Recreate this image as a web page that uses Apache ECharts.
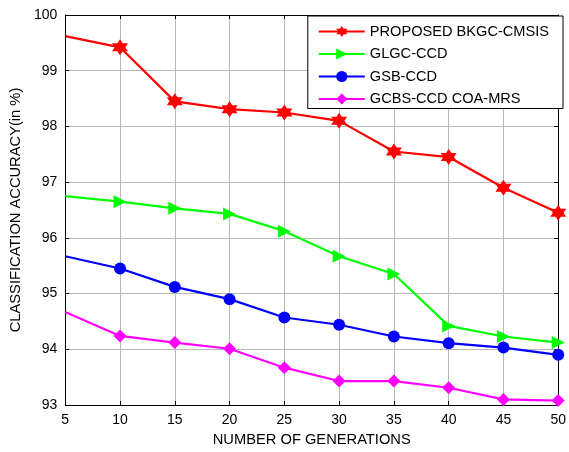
<!DOCTYPE html>
<html>
<head>
<meta charset="utf-8">
<script src="https://cdn.jsdelivr.net/npm/echarts@6/dist/echarts.min.js"></script>
<style>
  html, body { margin: 0; padding: 0; background: #fff; }
  #chart { width: 569px; height: 452px; }
</style>
</head>
<body>
<div id="chart"></div>
<script>
// generations on the x axis
var generations = [5, 10, 15, 20, 25, 30, 35, 40, 45, 50];

// accuracy values (%)
var proposed = [99.62, 99.42, 98.45, 98.31, 98.25, 98.10, 97.55, 97.45, 96.90, 96.45];
var glgc     = [96.75, 96.65, 96.53, 96.43, 96.12, 95.67, 95.35, 94.42, 94.23, 94.12];
var gsb      = [95.67, 95.45, 95.12, 94.90, 94.57, 94.44, 94.23, 94.11, 94.03, 93.90];
var gcbs     = [94.67, 94.24, 94.12, 94.01, 93.67, 93.43, 93.43, 93.31, 93.10, 93.08];

var names = ['PROPOSED BKGC-CMSIS', 'GLGC-CCD', 'GSB-CCD', 'GCBS-CCD COA-MRS'];

var hexagram = 'path://M10,0 L12.885,5 L18.66,5 L15.77,10 L18.66,15 L12.885,15 L10,20 L7.115,15 L1.34,15 L4.23,10 L1.34,5 L7.115,5 Z';
var triRight = 'path://M0,0 L10,5 L0,10 Z';

// first point is drawn without a marker, like the original figure
function pts(vals) {
  return vals.map(function (v, i) {
    var p = { value: [generations[i], v] };
    if (i === 0) p.symbol = 'none';
    return p;
  });
}

function mk(name, vals, color, symbol, size) {
  return {
    name: name,
    type: 'line',
    data: pts(vals),
    symbol: symbol,
    symbolSize: size,
    showAllSymbol: true,
    lineStyle: { color: color, width: 2.2 },
    itemStyle: { color: color, borderWidth: 0 },
    animation: false
  };
}

var chart = echarts.init(document.getElementById('chart'));

var font = 'Liberation Sans, Arial, sans-serif';
var axisFont = { color: '#000', fontSize: 14, fontFamily: font };

var option = {
  backgroundColor: '#fff',
  grid: { left: 60, right: 6, top: 15, bottom: 43, containLabel: false },
  legend: {
    data: names,
    orient: 'vertical',
    right: 6,
    top: 16,
    itemWidth: 46,
    itemHeight: 14,
    itemGap: 7.5,
    padding: [8, 14, 2, 10],
    borderColor: '#000',
    borderWidth: 1,
    backgroundColor: '#fff',
    textStyle: { color: '#000', fontSize: 14.6, fontFamily: font }
  },
  xAxis: [{
    type: 'value',
    min: 5, max: 50, interval: 5,
    name: 'NUMBER OF GENERATIONS',
    nameLocation: 'middle',
    nameGap: 27,
    nameTextStyle: { color: '#000', fontSize: 14.7, fontFamily: font },
    axisLine: { lineStyle: { color: '#000', width: 1 } },
    axisTick: { inside: true, length: 4, lineStyle: { color: '#000' } },
    axisLabel: axisFont,
    splitLine: { show: true, lineStyle: { color: '#b8b8b8', width: 1 } }
  }, {
    type: 'value',
    position: 'top',
    min: 5, max: 50, interval: 5,
    axisLine: { show: true, lineStyle: { color: '#000', width: 1 } },
    axisTick: { inside: true, length: 4, lineStyle: { color: '#000' } },
    axisLabel: { show: false },
    splitLine: { show: false }
  }],
  yAxis: [{
    type: 'value',
    min: 93, max: 100, interval: 1,
    name: 'CLASSIFICATION ACCURACY(in %)',
    nameLocation: 'middle',
    nameGap: 39,
    nameTextStyle: { color: '#000', fontSize: 14.7, fontFamily: font },
    axisLine: { show: true, lineStyle: { color: '#000', width: 1 } },
    axisTick: { show: true, inside: true, length: 4, lineStyle: { color: '#000' } },
    axisLabel: axisFont,
    splitLine: { show: true, lineStyle: { color: '#b8b8b8', width: 1 } }
  }, {
    type: 'value',
    position: 'right',
    min: 93, max: 100, interval: 1,
    axisLine: { show: true, lineStyle: { color: '#000', width: 1 } },
    axisTick: { show: true, inside: true, length: 4, lineStyle: { color: '#000' } },
    axisLabel: { show: false },
    splitLine: { show: false }
  }],
  series: [
    mk(names[0], proposed, '#ff0000', hexagram, 16),
    mk(names[1], glgc, '#00ff00', triRight, 13),
    mk(names[2], gsb, '#0000ff', 'circle', 12),
    mk(names[3], gcbs, '#ff00ff', 'diamond', 13)
  ]
};

chart.setOption(option);
</script>
</body>
</html>
